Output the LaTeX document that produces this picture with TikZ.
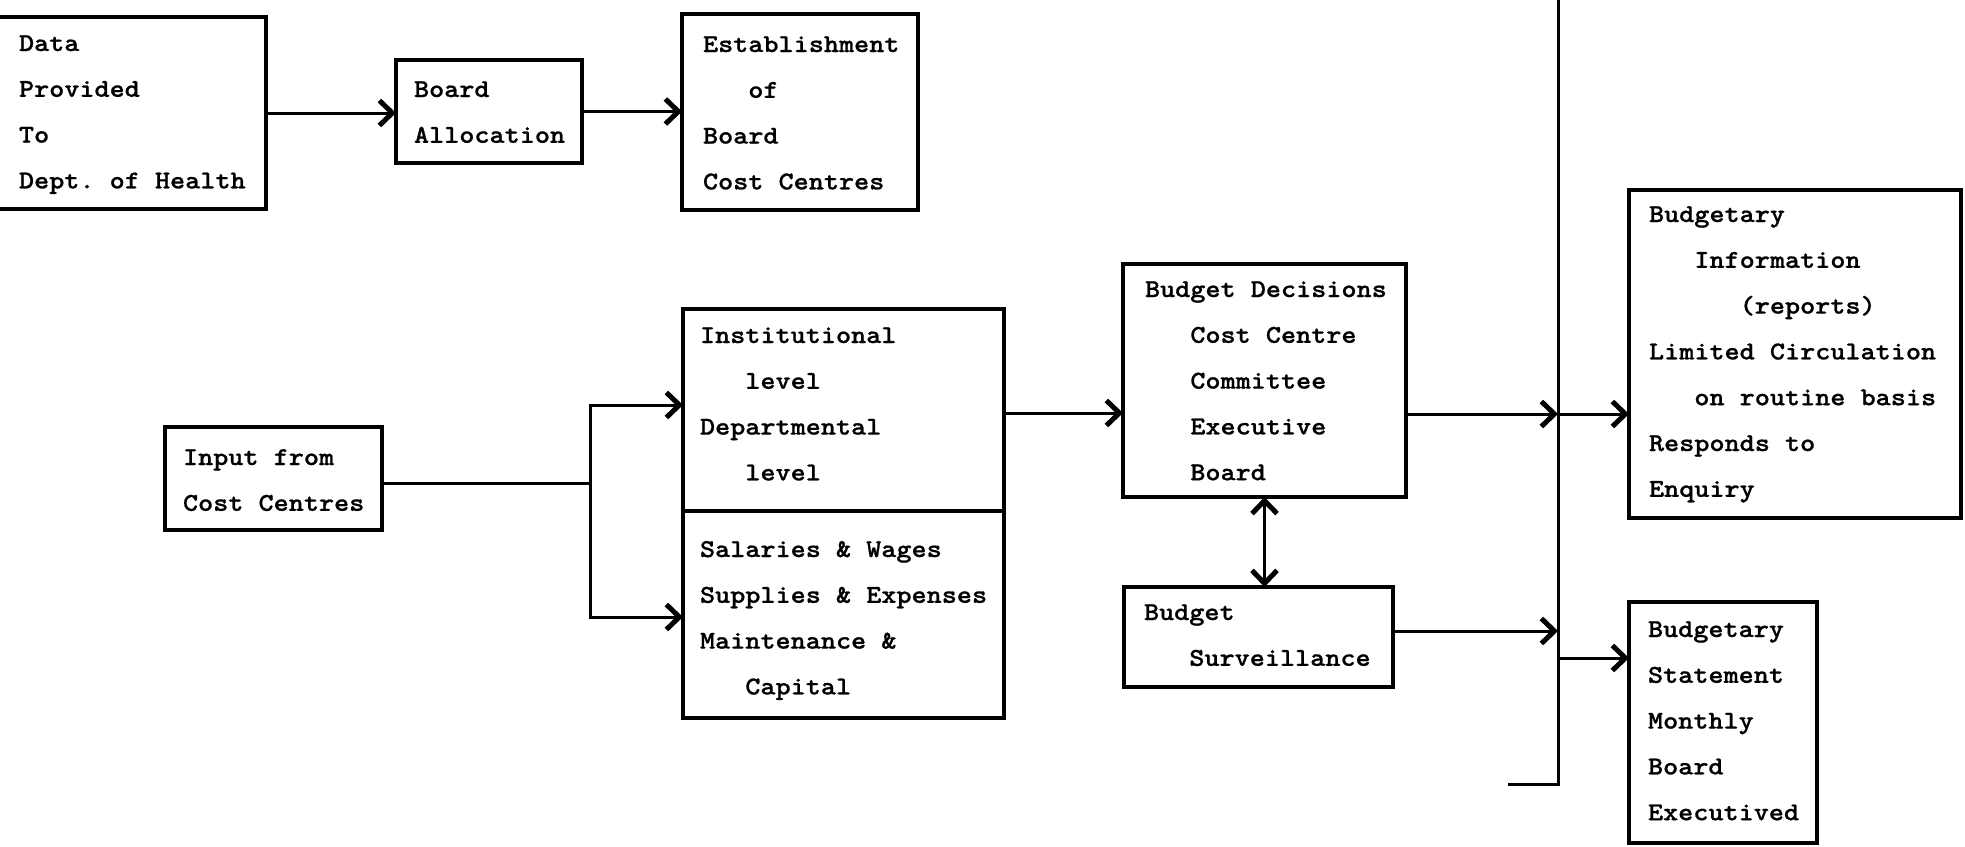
\documentclass[tikz,border=0pt]{standalone}
\usepackage{fontspec}
\usetikzlibrary{arrows.meta}
\newfontfamily\tw{lmmonolt10-bold.otf}[FakeStretch=1.12,FakeBold=0.8]
\newcommand\twf{\tw\fontsize{25.7pt}{45.8pt}\selectfont\hyphenpenalty=10000\exhyphenpenalty=10000}
\newlength\cw
\settowidth{\cw}{\twf M}
\newcommand\indt[1]{\hspace*{#1\cw}}
\newcommand\sps{\nobreak\hskip\cw\nobreak}
\tikzset{
  tb/.style={draw, line width=3.4pt, outer sep=0pt, inner ysep=0pt, align=left, anchor=north west, font=\twf},
  ln/.style={line width=3pt},
  arr/.style={line width=3pt, -{Straight Barb[length=13pt,width=25pt,line width=5pt]}},
  darr/.style={line width=3pt, {Straight Barb[length=13pt,width=25pt,line width=5pt]}-{Straight Barb[length=13pt,width=25pt,line width=5pt]}}
}
\begin{document}
\begin{tikzpicture}[x=1pt,y=-1pt]
\useasboundingbox (0,0) rectangle (1965,846);
\fill[white] (0,0) rectangle (1965,846);
% boxes
\node[tb, inner xsep=24pt, text width=223pt, text height=34pt, text depth=158pt] (data) at (-5,17) {Data\\Provided\\To\\Dept.\sps of\sps Health};
\node[tb, inner xsep=18pt, text width=150pt, text height=37pt, text depth=66pt] (board) at (396,60) {Board\\Allocation};
\node[tb, inner xsep=21pt, text width=194pt, text height=38pt, text depth=158pt] (est) at (682,14) {Establishment\\\indt{3}of\\Board\\Cost\sps Centres};
\node[tb, inner xsep=18pt, text width=181pt, text height=38pt, text depth=65pt] (input) at (165,427) {Input\sps from\\Cost\sps Centres};
\node[tb, inner xsep=17pt, text width=287pt, text height=34pt, text depth=168pt] (inst) at (683,309) {Institutional\\\indt{3}level\\Departmental\\\indt{3}level};
\node[tb, inner xsep=17pt, text width=287pt, text height=46pt, text depth=161pt] (cat) at (683,511) {Salaries\sps\&\sps Wages\\Supplies\sps\&\sps Expenses\\Maintenance\sps\&\\\indt{3}Capital};
\node[tb, inner xsep=22pt, text width=239pt, text height=33pt, text depth=200pt] (bd) at (1123,264) {Budget\sps Decisions\\\indt{3}Cost\sps Centre\\\indt{3}Committee\\\indt{3}Executive\\\indt{3}Board};
\node[tb, inner xsep=20pt, text width=229pt, text height=33pt, text depth=67pt] (bs) at (1124,587) {Budget\\\indt{3}Surveillance};
\node[tb, inner xsep=20pt, text width=292pt, text height=32pt, text depth=296pt] (bi) at (1629,190) {Budgetary\\\indt{3}Information\\\indt{6}(reports)\\Limited\sps Circulation\\\indt{3}on\sps routine\sps basis\\Responds\sps to\\Enquiry};
\node[tb, inner xsep=19pt, text width=150pt, text height=35pt, text depth=206pt] (bst) at (1629,602) {Budgetary\\Statement\\Monthly\\Board\\Executived};
% helper coordinates
\coordinate (j) at (590,483);
\coordinate (r1) at (0,413);
\coordinate (r2) at (0,414);
\coordinate (r3) at (0,631);
\coordinate (r4) at (0,658);
\coordinate (bt) at (1558,-3);
\coordinate (bb) at (1558,784);
\coordinate (be) at (1508,784);
% connectors
\draw[arr] (data.east) -- (data.east -| board.west);
\draw[arr] (board.east) -- (board.east -| est.west);
\draw[ln] (input.east |- j) -- (j);
\draw[arr] (j) |- ([yshift=5pt]inst.west);
\draw[arr] (j) |- ([yshift=-2.5pt]cat.west);
\draw[arr] (inst.east |- r1) -- (bd.west |- r1);
\draw[ln] (bt) -- (bb) -- (be);
\draw[arr] (bd.east |- r2) -- (bt |- r2);
\draw[arr] (bt |- r2) -- (bi.west |- r2);
\draw[arr] (bs.east |- r3) -- (bt |- r3);
\draw[arr] (bt |- r4) -- (bst.west |- r4);
\draw[darr] (bd.south) -- (bd.south |- bs.north);
\end{tikzpicture}
\end{document}
